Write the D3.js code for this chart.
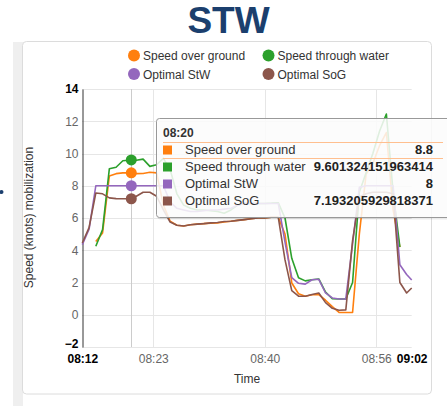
<!DOCTYPE html>
<html><head><meta charset="utf-8">
<script src="https://cdn.jsdelivr.net/npm/d3@7"></script>
<style>body{margin:0;background:#fff;font-family:"Liberation Sans",Arial,sans-serif}</style>
</head><body><svg id="c" width="447" height="406"></svg>
<script>
const chartTitle = "STW";
const yAxisTitle = "Speed (knots) mobilization";
const xAxisTitle = "Time";
const seriesNames = ["Speed over ground", "Speed through water", "Optimal StW", "Optimal SoG"];
const seriesColors = ["#ff7f0e", "#2ca02c", "#9467bd", "#8c564b"];
const times = ["08:12:45","08:13:45","08:14:45","08:15:45","08:16:45","08:17:45","08:18:45","08:20:00","08:20:45","08:21:45",
  "08:22:45","08:23:45","08:24:45","08:25:45","08:26:45","08:27:45","08:28:45","08:29:45","08:30:45","08:31:45",
  "08:32:45","08:33:45","08:34:45","08:35:45","08:36:45","08:37:45","08:38:45","08:39:45","08:40:45","08:41:45",
  "08:42:45","08:43:45","08:44:45","08:45:45","08:46:45","08:47:45","08:48:45","08:49:45","08:50:45","08:51:45",
  "08:52:45","08:53:45","08:54:45","08:55:45","08:56:45","08:57:45","08:58:45","08:59:45","09:00:45","09:01:30"];
const sog = [null,null,4.55,5.07,8.6,8.75,8.8,8.8,8.75,8.76,
  8.84,8.8,6.8,5.8,5.55,5.5,5.58,5.62,5.65,5.68,
  5.7,5.75,5.8,5.85,5.9,5.95,6.0,6.0,6.05,6.05,
  5.0,1.97,1.3,1.15,1.24,1.25,0.9,0.5,0.15,0.14,
  0.14,5.0,8.7,9.4,10.5,11.3,6.5,4.2,null,null];
const stw = [null,null,4.25,5.28,9.05,9.15,9.55,9.601324151963414,9.58,9.65,
  9.2,9.3,9.7,9.0,7.5,6.8,6.6,6.5,6.5,6.45,
  6.4,6.3,6.5,6.8,6.9,6.9,6.9,6.9,6.92,6.95,
  6.0,3.5,2.3,2.1,2.17,2.22,1.4,0.99,0.98,0.98,
  2.0,7.6,8.8,10.0,11.4,12.45,7.6,4.2,null,null];
const optStw = [4.35,5.3,8,8,8,8,8,8,8,8,
  8,8,8,7.0,6.6,6.5,6.4,6.4,6.45,6.5,
  6.5,6.55,6.6,6.8,6.9,6.9,6.9,6.9,6.9,6.9,
  4.5,2.3,1.95,1.9,2.17,2.2,1.35,1.04,0.98,0.98,
  4.4,7.9,8,8,8,8,8,3.1,2.5,2.15];
const optSog = [4.45,5.4,7.55,7.5,7.25,7.2,7.19,7.193205929818371,7.35,7.6,
  7.6,7.35,6.5,5.75,5.55,5.5,5.58,5.62,5.65,5.7,
  5.72,5.78,5.8,5.85,5.9,5.95,6.0,6.0,6.05,6.05,
  3.4,1.5,1.15,1.15,1.25,1.35,0.75,0.4,0.28,0.3,
  4.6,7.3,7.5,7.6,7.6,7.6,7.5,2.0,1.35,1.66];
const yTicks = [-2,0,2,4,6,8,10,12,14];
const xTickTimes = ["08:12:45","08:23:15","08:39:45","08:56:15","09:01:30"];
const xTickLabels = ["08:12","08:23","08:40","08:56","09:02"];
const hoverTime = "08:20:00";
const hoverLabel = "08:20";
const tooltipValues = ["8.8","9.601324151963414","8","7.193205929818371"];

const parse = d3.timeParse("%H:%M:%S");
const series = [sog, stw, optStw, optSog].map((vals, i) => ({
  name: seriesNames[i], color: seriesColors[i],
  pts: times.map((t, j) => ({t: parse(t), v: vals[j]}))
}));

const svg = d3.select("#c");
const font = '"Liberation Sans", Arial, sans-serif';

// page decorations
svg.append("rect").attr("x",13).attr("y",42).attr("width",10).attr("height",364).attr("fill","#efefef");
svg.append("circle").attr("cx",1.5).attr("cy",192).attr("r",2).attr("fill","#1b3f6e");
svg.append("text").attr("x",228.5).attr("y",33).attr("text-anchor","middle")
  .attr("font-family",font).attr("font-weight","bold").attr("font-size",37).attr("fill","#1b3f6e").text(chartTitle);
svg.append("rect").attr("x",22.5).attr("y",41.5).attr("width",409).attr("height",352.5).attr("rx",4)
  .attr("fill","#fff").attr("stroke","#dcdcdc");

const x = d3.scaleTime().domain([parse(xTickTimes[0]), parse(xTickTimes[xTickTimes.length-1])]).range([82.3, 411.7]);
const y = d3.scaleLinear().domain([-2, 14]).range([347, 89]);

// grid
const g = svg.append("g");
g.selectAll(".hg").data(yTicks).join("line")
  .attr("x1",82).attr("x2",411.7).attr("y1",d=>Math.round(y(d))+0.5).attr("y2",d=>Math.round(y(d))+0.5)
  .attr("stroke","#e6e6e6");
g.selectAll(".vg").data(xTickTimes.slice(1,-1)).join("line")
  .attr("x1",d=>Math.round(x(parse(d)))+0.5).attr("x2",d=>Math.round(x(parse(d)))+0.5)
  .attr("y1",89).attr("y2",347).attr("stroke","#e6e6e6");
// crosshair
g.append("line").attr("x1",Math.round(x(parse(hoverTime)))+0.5).attr("x2",Math.round(x(parse(hoverTime)))+0.5)
  .attr("y1",89).attr("y2",347).attr("stroke","#cccccc");

// y axis
const yAxis = d3.axisLeft(y).tickValues(yTicks).tickSize(0).tickPadding(4);
const ya = svg.append("g").attr("transform","translate(82.5,0)").call(yAxis);
ya.select(".domain").attr("stroke","#333");
ya.selectAll(".tick").filter(d=>d===yTicks[0]).attr("transform",d=>`translate(0,${y(d)-3})`);
ya.selectAll("text").attr("font-family",font).attr("font-size",12)
  .attr("fill",(d,i)=> (i===0||i===yTicks.length-1) ? "#000" : "#666")
  .attr("font-weight",(d,i)=> (i===0||i===yTicks.length-1) ? "bold" : "normal");

// x axis
const xAxis = d3.axisBottom(x).tickValues(xTickTimes.map(parse)).tickSize(0).tickPadding(7)
  .tickFormat((d,i)=>xTickLabels[i]);
const xa = svg.append("g").attr("transform","translate(0,347)").call(xAxis);
xa.select(".domain").remove();
xa.selectAll("text").attr("font-family",font).attr("font-size",12)
  .attr("fill",(d,i)=> (i===0||i===xTickTimes.length-1) ? "#000" : "#666")
  .attr("font-weight",(d,i)=> (i===0||i===xTickTimes.length-1) ? "bold" : "normal");

svg.append("text").attr("x",247).attr("y",383).attr("text-anchor","middle").attr("font-family",font)
  .attr("font-size",12).attr("fill","#333").text(xAxisTitle);
svg.append("text").attr("transform","translate(33,217.5) rotate(-90)").attr("text-anchor","middle")
  .attr("font-family",font).attr("font-size",12).attr("fill","#333").text(yAxisTitle);

// lines
const line = d3.line().defined(d=>d.v!=null).x(d=>x(d.t)).y(d=>y(d.v));
svg.append("g").selectAll("path").data(series).join("path")
  .attr("d",d=>line(d.pts)).attr("fill","none").attr("stroke",d=>d.color).attr("stroke-width",1.6)
  .attr("stroke-linejoin","round");

// hover markers
const ht = parse(hoverTime);
svg.append("g").selectAll("circle").data(series).join("circle")
  .attr("cx",x(ht)).attr("cy",d=>y(d.pts.find(p=>+p.t===+ht).v)).attr("r",5.5).attr("fill",d=>d.color);

// legend
const legPos = [[134,55.5],[268.5,55.5],[134,74],[268.5,74]];
const lg = svg.append("g").selectAll("g").data(series).join("g")
  .attr("transform",(d,i)=>`translate(${legPos[i][0]},${legPos[i][1]})`);
lg.append("circle").attr("r",6).attr("fill",d=>d.color);
lg.append("text").attr("x",9).attr("y",4.5).attr("font-family",font).attr("font-size",12).attr("fill","#333").text(d=>d.name);

// tooltip
const tt = svg.append("g");
tt.append("rect").attr("x",157.5).attr("y",119.5).attr("width",300).attr("height",100).attr("rx",3)
  .attr("fill","rgba(0,0,0,0.08)");
tt.append("rect").attr("x",156.5).attr("y",118.5).attr("width",300).attr("height",99).attr("rx",3)
  .attr("fill","rgba(255,255,255,0.85)").attr("stroke","#999");
tt.append("text").attr("x",163).attr("y",137).attr("font-family",font).attr("font-size",12)
  .attr("font-weight","bold").attr("fill","#333").text(hoverLabel);
tt.append("line").attr("x1",163).attr("x2",443).attr("y1",142.5).attr("y2",142.5).attr("stroke","#ffbf8f");
tt.append("line").attr("x1",163).attr("x2",443).attr("y1",158.5).attr("y2",158.5).attr("stroke","#ffbf8f");
const rows = tt.selectAll(".row").data(series).join("g").attr("transform",(d,i)=>`translate(0,${154+i*17})`);
rows.append("rect").attr("x",163).attr("y",-8.5).attr("width",9).attr("height",9).attr("fill",d=>d.color);
rows.append("text").attr("x",185).attr("y",0).attr("font-family",font).attr("font-size",13).attr("fill","#333").text(d=>d.name);
rows.append("text").attr("x",433).attr("y",0).attr("text-anchor","end").attr("font-family",font).attr("font-size",13)
  .attr("font-weight","bold").attr("fill","#222").text((d,i)=>tooltipValues[i]);
</script></body></html>
